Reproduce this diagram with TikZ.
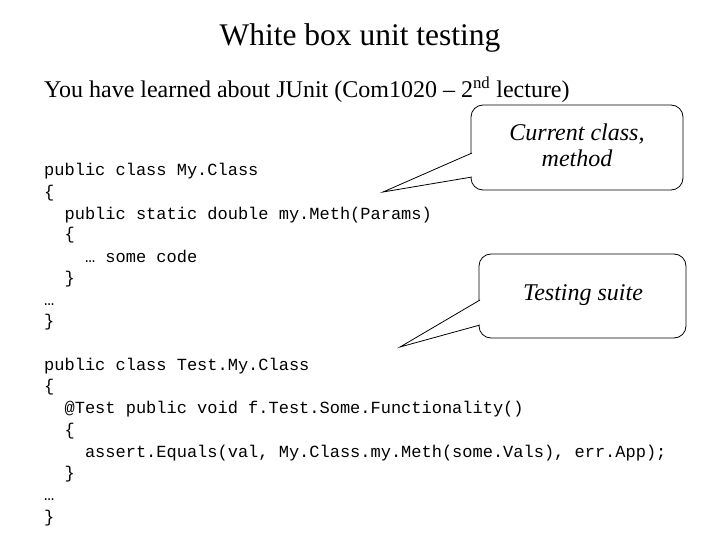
\documentclass[tikz,border=0pt]{standalone}
\usepackage{fontspec}
\setmainfont{Liberation Serif}
\setmonofont{Liberation Mono}
\begin{document}
\begin{tikzpicture}[x=1pt,y=-1pt,
  code/.style={anchor=base west,inner sep=0pt,font=\ttfamily\fontsize{17}{18}\selectfont},
  callout/.style={draw,line width=0.8pt,rounded corners=12pt,fill=white},
  ctext/.style={font=\itshape\fontsize{24}{26}\selectfont,align=center}]
\useasboundingbox (0,0) rectangle (720,540);
\node[font=\fontsize{31.5}{34}\selectfont] (title) at (360,38) {White box unit testing};
\node[anchor=base west,inner sep=0pt,font=\fontsize{24}{26}\selectfont] (sub) at (44,98) {You have learned about JUnit (Com1020 -- 2\textsuperscript{nd} lecture)};
\foreach \n/\y/\t in {a1/176/{public class My.Class},a2/197/\{,a3/219/{\ \ public static double my.Meth(Params)},a4/240/{\ \ \{},a5/262/{\ \ \ \ … some code},a6/283/{\ \ \}},a7/305/…,a8/326/\},
  b1/370/{public class Test.My.Class},b2/391/\{,b3/413/{\ \ @Test public void f.Test.Some.Functionality()},b4/435/{\ \ \{},b5/457/{\ \ \ \ assert.Equals(val, My.Class.my.Meth(some.Vals), err.App);},b6/478/{\ \ \}},b7/500/…,b8/522/\}}
  \node[code] (\n) at (44,\y) {\t};
% callout 1
\coordinate (t1) at (383,192);
\draw[callout] (471,105) rectangle (683,190);
\draw[line width=0.8pt,fill=white] (472,153) -- (t1) -- (472,177);
\node[ctext] (c1) at (577,145) {Current class,\\method};
% callout 2
\coordinate (t2) at (400,347);
\draw[callout] (479,254) rectangle (686,338);
\draw[line width=0.8pt,fill=white] (480,300) -- (t2) -- (480,325);
\node[ctext] (c2) at (583,295) {Testing suite};
\end{tikzpicture}
\end{document}
